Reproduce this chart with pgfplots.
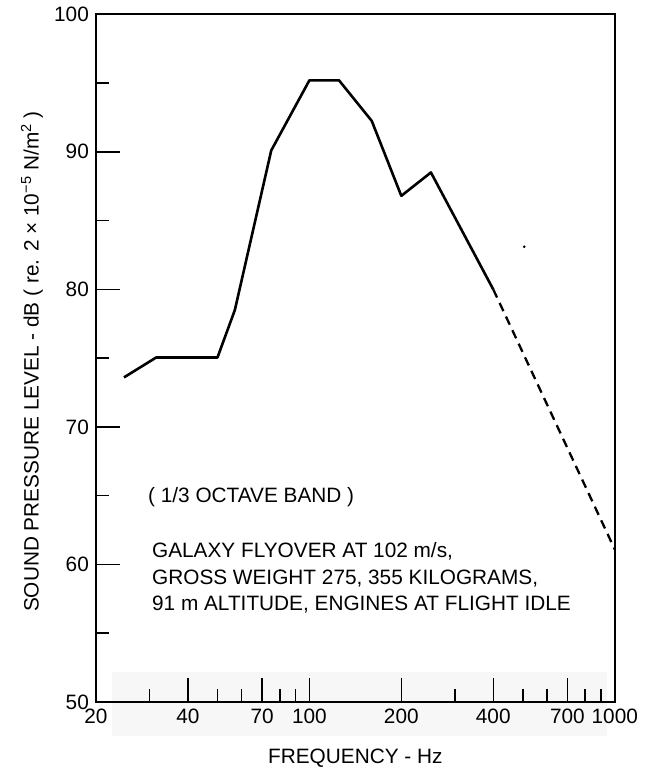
\documentclass[border=0pt]{standalone}
\usepackage{pgfplots}
\pgfplotsset{compat=1.18}
\usepackage{fontspec}
\setmainfont{Liberation Sans}
\newcommand\fs{\fontsize{20.8bp}{25bp}\selectfont}
\begin{document}
\fs
\begin{tikzpicture}
\begin{axis}[
  scale only axis,
  width=519bp, height=688bp,
  xmode=log, log basis x=10,
  xmin=20, xmax=1000, ymin=50, ymax=100,
  axis line style={line width=1.6bp},
  axis on top=true,
  tick align=inside,
  xtick pos=bottom, ytick pos=left,
  xtick={20,40,70,100,200,400,700,1000},
  xticklabels={20,40,70,100,200,400,700,1000},
  minor xtick={30,50,60,80,90,300,500,600,800,900},
  ytick={50,60,70,80,90,100},
  yticklabels={50,60,70,80,90,100},
  minor ytick={55,65,75,85,95},
  major tick length=24bp, minor tick length=13bp,
  every tick/.style={black, line width=1.5bp},
  tick label style={font=\fs},
  /pgf/number format/assume math mode=true,
  clip=false,
]
\path (rel axis cs:-0.18497,-0.09884) rectangle (rel axis cs:1.05780,1.02035);
\fill[black!3] (rel axis cs:0.031,-0.05) rectangle (rel axis cs:0.985,0.0436);
\addplot[black, line width=2.6bp, line join=round] coordinates {
  (24.7,73.6) (31.5,75.05) (50,75.05) (57,78.5) (75,90.1)
  (100,95.2) (125,95.2) (160,92.25) (200,86.8) (250,88.5) (400,80.0)
};
\addplot[black, line width=2.3bp, dash pattern=on 9bp off 6bp] coordinates {
  (400,80.0) (1000,61.1)
};
\addplot[only marks, mark=*, mark size=1.1bp, black] coordinates {(505,83.1)};
\node[anchor=base west, font=\fs, inner sep=0pt] at (rel axis cs:0.1002,0.2907) {( 1/3 OCTAVE BAND )};
\node[anchor=base west, font=\fs, inner sep=0pt] at (rel axis cs:0.1079,0.2100) {GALAXY FLYOVER AT 102 m/s,};
\node[anchor=base west, font=\fs, inner sep=0pt] at (rel axis cs:0.1079,0.1708) {GROSS WEIGHT 275, 355 KILOGRAMS,};
\node[anchor=base west, font=\fs, inner sep=0pt] at (rel axis cs:0.1079,0.1330) {91 m ALTITUDE, ENGINES AT FLIGHT IDLE};
\node[rotate=90, font=\fs, inner sep=0pt] at (rel axis cs:-0.1233,0.495) {SOUND PRESSURE LEVEL - dB ( re. 2 × 10\textsuperscript{−5} N/m\textsuperscript{2} )};
\node[font=\fs, inner sep=0pt] at (rel axis cs:0.5,-0.0814) {FREQUENCY - Hz};
\end{axis}
\end{tikzpicture}
\end{document}
